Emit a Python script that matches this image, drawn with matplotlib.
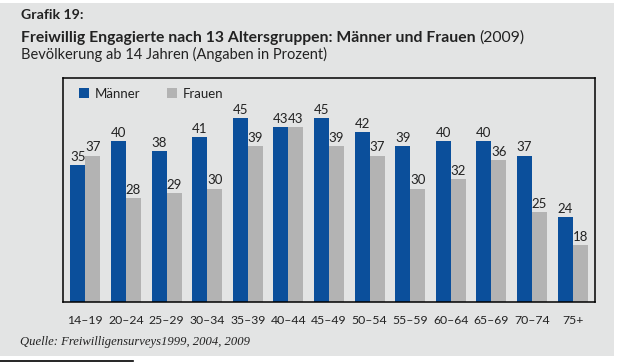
import matplotlib
matplotlib.use("Agg")
import matplotlib.pyplot as plt
import numpy as np
from matplotlib.patches import Rectangle
from matplotlib.lines import Line2D

plt.rcParams["font.family"] = ["Lato", "DejaVu Sans"]

AGE_GROUPS = ["14–19", "20–24", "25–29", "30–34", "35–39", "40–44", "45–49",
              "50–54", "55–59", "60–64", "65–69", "70–74", "75+"]
MAENNER = [35, 40, 38, 41, 45, 43, 45, 42, 39, 40, 40, 37, 24]
FRAUEN = [37, 28, 29, 30, 39, 43, 39, 37, 30, 32, 36, 25, 18]

BLUE = "#0b4f9b"
GREY = "#b3b3b3"
BG = "#e3e4e4"
INK = "#222222"

W, H = 621, 363
fig = plt.figure(figsize=(W / 100, H / 100), dpi=100, facecolor="white")

# grey panel behind everything
fig.patches.append(Rectangle((0, 7 / H), 614 / W, 353 / H, transform=fig.transFigure,
                             facecolor=BG, edgecolor="none", zorder=-5))
fig.lines.append(Line2D([0, 133 / W], [1.8 / H, 1.8 / H], transform=fig.transFigure,
                        color="black", linewidth=1.2))

ax = fig.add_axes([63 / W, (H - 302) / H, (595 - 63) / W, (302 - 78) / H])
ax.set_facecolor(BG)

x = np.arange(len(AGE_GROUPS))
bw = 0.37
b1 = ax.bar(x - bw / 2, MAENNER, bw, color=BLUE, label="Männer", zorder=2)
b2 = ax.bar(x + bw / 2, FRAUEN, bw, color=GREY, label="Frauen", zorder=2)
for bars, vals in ((b1, MAENNER), (b2, FRAUEN)):
    for rect, v in zip(bars, vals):
        ax.annotate(str(v), (rect.get_x() + rect.get_width() / 2, v),
                    xytext=(0, 1.5), textcoords="offset points",
                    ha="center", va="bottom", fontsize=9.5, color=INK)

ax.set_xlim(-0.55, 12.55)
ax.set_ylim(6, 53.4)
ax.set_yticks([])
ax.set_xticks(x, AGE_GROUPS, fontsize=8.8, color=INK)
ax.tick_params(axis="x", length=0, pad=9)
for s in ax.spines.values():
    s.set_linewidth(1.1)
    s.set_color("black")

ax.legend(loc="upper left", bbox_to_anchor=(0.008, 1.01), ncol=2, frameon=False,
          fontsize=9.5, handlelength=0.75, handleheight=0.75, handletextpad=0.45,
          columnspacing=2.0, labelcolor=INK)


def fit_text(xpx, ypx, s, target_w, size, **kw):
    t = fig.text(xpx / W, 1 - ypx / H, s, fontsize=size, va="center", ha="left",
                 color=INK, **kw)
    fig.canvas.draw()
    w = t.get_window_extent().width
    t.set_fontsize(size * target_w / w)
    return t


fit_text(21, 15, "Grafik 19:", 62, 11, fontweight="bold")
t1 = fit_text(21, 38, "Freiwillig Engagierte nach 13 Altersgruppen: Männer und Frauen",
              454, 11.5, fontweight="bold")
fig.canvas.draw()
bb = t1.get_window_extent()
fig.text(bb.x1 / W + 4 / W, 1 - 38 / H, "(2009)", fontsize=t1.get_fontsize(),
         va="center", ha="left", color=INK)
fit_text(21, 54, "Bevölkerung ab 14 Jahren (Angaben in Prozent)", 306, 11.5)
fit_text(20, 342, "Quelle: Freiwilligensurveys1999, 2004, 2009", 228, 9,
         style="italic", family=["Liberation Serif", "DejaVu Serif"])

fig.savefig("out.png", dpi=100, facecolor="white")
